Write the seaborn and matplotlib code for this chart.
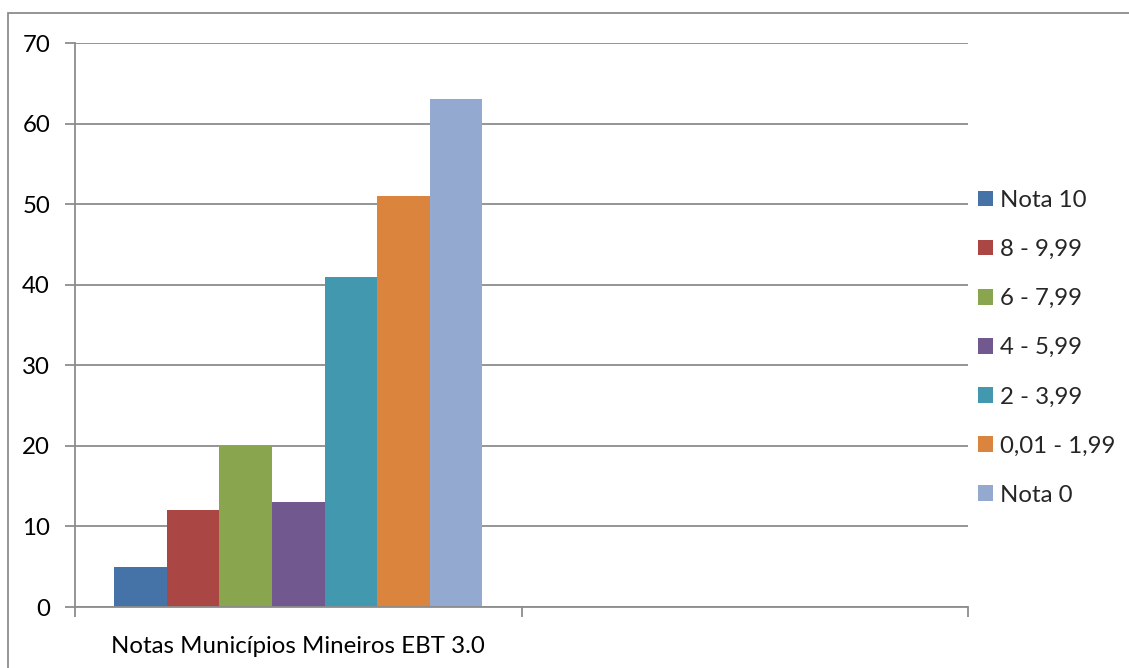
import matplotlib
matplotlib.use("Agg")
import matplotlib.pyplot as plt
import seaborn as sns
import pandas as pd
from matplotlib.patches import Rectangle
from matplotlib.ticker import FixedLocator

categories = ["Notas Municípios Mineiros EBT 3.0", " "]
series = ["Nota 10", "8 - 9,99", "6 - 7,99", "4 - 5,99", "2 - 3,99", "0,01 - 1,99", "Nota 0"]
values = [5, 12, 20, 13, 41, 51, 63]
colors = ["#4572A7", "#AA4643", "#89A54E", "#71588F", "#4198AF", "#DB843D", "#93A9CF"]
yticks = [0, 10, 20, 30, 40, 50, 60, 70]

sns.set_theme(style="white")
plt.rcParams['font.family'] = ['Lato', 'DejaVu Sans']

FS = 17.3

df = pd.DataFrame({"cat": [categories[0]] * len(series), "serie": series, "valor": values})

fig = plt.figure(figsize=(11.29, 6.68), dpi=100)
ax = fig.add_axes([75/1129, 1-607/668, (968-75)/1129, (607-43)/668])

sns.barplot(data=df, x="cat", y="valor", hue="serie", order=categories, hue_order=series,
            palette=colors, width=0.824, saturation=1, ax=ax, linewidth=0, legend=True)

ax.set_xlim(-0.5, 1.5)
ax.set_ylim(0, 70)
ax.set_yticks(yticks)
ax.set_yticklabels([str(t) for t in yticks], fontsize=FS, color="black")
ax.set_xticks([0])
ax.set_xticklabels([categories[0]], fontsize=FS, color="black")
ax.xaxis.set_minor_locator(FixedLocator([-0.5, 0.5, 1.5]))
ax.tick_params(axis="x", which="major", length=0, pad=21)
ax.tick_params(axis="x", which="minor", length=7, width=1.3, color="#8C8C8C", direction="out", bottom=True)
ax.tick_params(axis="y", which="major", length=7, width=1.3, color="#8C8C8C", direction="out", left=True, pad=11)
ax.set_xlabel("")
ax.set_ylabel("")

ax.yaxis.grid(True, color="#8C8C8C", linewidth=1.3)
ax.set_axisbelow(True)
for s in ["top", "right"]:
    ax.spines[s].set_visible(False)
for s in ["left", "bottom"]:
    ax.spines[s].set_color("#8C8C8C")
    ax.spines[s].set_linewidth(1.3)

leg = ax.legend(loc="upper left", bbox_to_anchor=(978/1129, 1-190/668), bbox_transform=fig.transFigure,
                frameon=False, fontsize=FS, handlelength=0.62, handleheight=0.62, handletextpad=0.3,
                labelspacing=1.17, borderaxespad=0, borderpad=0)

fig.patches.append(Rectangle((8/1129, -0.05), 1.2, 1-13/668 + 0.05, transform=fig.transFigure,
                             fill=False, edgecolor="#8C8C8C", linewidth=1.3))

fig.savefig("out.png", dpi=100)
